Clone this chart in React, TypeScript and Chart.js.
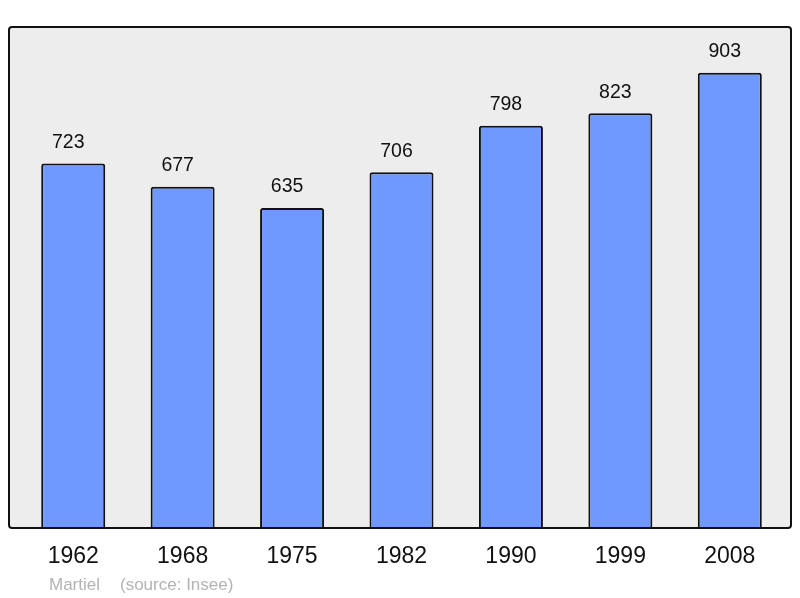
import React, { useEffect, useRef } from "react";
import { Chart, registerables } from "chart.js";

Chart.register(...registerables);

const years = ["1962", "1968", "1975", "1982", "1990", "1999", "2008"];
const population = [723, 677, 635, 706, 798, 823, 903];
const footerAuthor = "Martiel";
const footerSource = "(source: Insee)";

const FONT = "'Liberation Sans', Arial, sans-serif";

const boxPlugin = {
  id: "boxPlugin",
  beforeDatasetsDraw(chart: any) {
    const { ctx } = chart;
    ctx.save();
    ctx.fillStyle = "#ededed";
    ctx.beginPath();
    ctx.roundRect(9, 27, 782, 501, 3);
    ctx.fill();
    ctx.restore();
  },
  afterDatasetsDraw(chart: any) {
    const { ctx } = chart;
    ctx.save();
    ctx.strokeStyle = "#111";
    ctx.lineWidth = 2;
    ctx.beginPath();
    ctx.roundRect(9, 27, 782, 501, 3);
    ctx.stroke();

    const meta = chart.getDatasetMeta(0);
    const xScale = chart.scales.x;
    ctx.fillStyle = "#111";
    ctx.textAlign = "center";
    ctx.textBaseline = "alphabetic";
    ctx.font = `19.5px ${FONT}`;
    meta.data.forEach((bar: any, i: number) => {
      ctx.fillText(String(population[i]), bar.x - 5, bar.y - 15.5);
    });
    ctx.font = `23px ${FONT}`;
    ctx.textBaseline = "middle";
    years.forEach((y, i) => {
      ctx.fillText(y, xScale.getPixelForValue(i), 557);
    });
    ctx.font = `17px ${FONT}`;
    ctx.fillStyle = "#b3b3b3";
    ctx.textAlign = "left";
    ctx.fillText(footerAuthor, 49, 585);
    ctx.fillText(footerSource, 120, 585);
    ctx.restore();
  },
};

export default function App() {
  const ref = useRef<HTMLCanvasElement>(null);
  useEffect(() => {
    if (!ref.current) return;
    const chart = new Chart(ref.current, {
      type: "bar",
      data: {
        labels: years,
        datasets: [
          {
            data: population,
            backgroundColor: "#7099ff",
            borderColor: "#111",
            borderWidth: 2,
            borderRadius: 2.5,
            borderSkipped: "bottom",
            barPercentage: 0.585,
            categoryPercentage: 1,
          },
        ],
      },
      options: {
        responsive: false,
        animation: false,
        layout: { padding: { left: 18.5, right: 15.5, top: 27, bottom: 70 } },
        plugins: { legend: { display: false }, tooltip: { enabled: false } },
        scales: {
          x: { display: false },
          y: { display: false, min: 0, max: 994 },
        },
      },
      plugins: [boxPlugin],
    });
    return () => chart.destroy();
  }, []);
  return (
    <div style={{ position: "absolute", left: 0, top: 0, width: 800, height: 598 }}>
      <canvas ref={ref} width={800} height={598} style={{ width: 800, height: 598 }} />
    </div>
  );
}
